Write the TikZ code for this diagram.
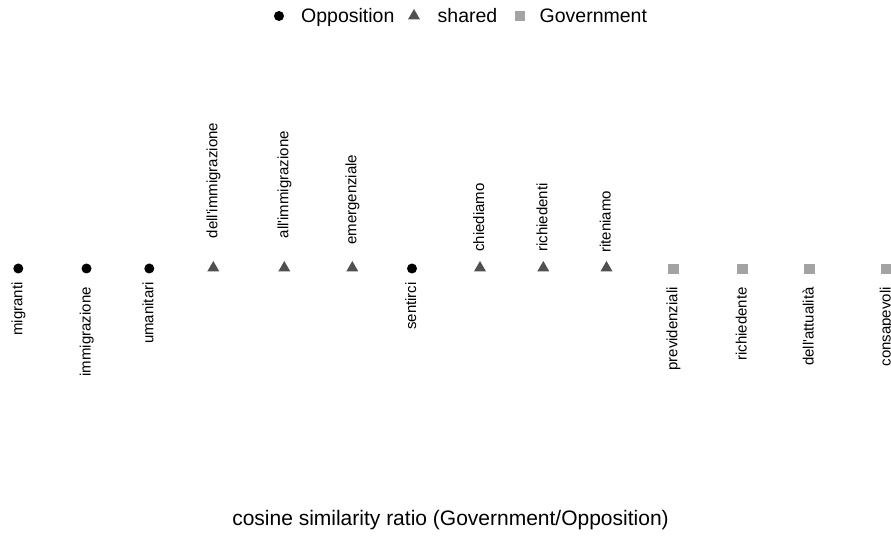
\documentclass[tikz,border=0pt]{standalone}
\usepackage{fontspec}
\setmainfont{Liberation Sans}
\usetikzlibrary{shapes.geometric}
\definecolor{sharedgray}{HTML}{505050}
\definecolor{govgray}{HTML}{A3A3A3}
\begin{document}
\begin{tikzpicture}[x=1pt,y=-1pt,
  opp/.style={circle,fill=black,inner sep=0pt,minimum size=10pt},
  shr/.style={regular polygon,regular polygon sides=3,fill=sharedgray,inner sep=0pt,minimum size=14pt},
  gov/.style={rectangle,fill=govgray,inner sep=0pt,minimum size=10.5pt},
  lab/.style={font=\fontsize{15}{15}\selectfont,rotate=90,inner sep=0pt},
  labdn/.style={lab,anchor=base east},
  labup/.style={lab,anchor=base west},
  legtext/.style={font=\fontsize{19.5}{19.5}\selectfont,inner sep=0pt,anchor=base west},
]
\useasboundingbox (0,0) rectangle (891,537);
\clip (0,0) rectangle (891,537);

% legend
\node[opp] (lo) at (279,16) {};
\node[legtext] (lot) at (301,23) {Opposition};
\node[shr] (ls) at (414,16) {};
\node[legtext] (lst) at (437.5,23) {shared};
\node[gov] (lg) at (520,16) {};
\node[legtext] (lgt) at (539.5,23) {Government};

% points
\node[opp] (p1) at (18.3,268.5) {};
\node[opp] (p2) at (86.5,268.5) {};
\node[opp] (p3) at (149.3,268.5) {};
\node[shr] (p4) at (213.3,268) {};
\node[shr] (p5) at (284.3,268) {};
\node[shr] (p6) at (352.3,268) {};
\node[opp] (p7) at (412,268.5) {};
\node[shr] (p8) at (480,268) {};
\node[shr] (p9) at (543.3,268) {};
\node[shr] (p10) at (606.5,268) {};
\node[gov] (p11) at (673.3,269) {};
\node[gov] (p12) at (742.7,269) {};
\node[gov] (p13) at (809.5,269) {};
\node[gov] (p14) at (886.7,269) {};

% labels
\node[labdn] (t1) at (22.3,282) {migranti};
\node[labdn] (t2) at (90.5,287) {immigrazione};
\node[labdn] (t3) at (153.3,282) {umanitari};
\node[labup] (t4) at (217.3,238.5) {dell\textquotesingle immigrazione};
\node[labup] (t5) at (288.3,238.5) {all\textquotesingle immigrazione};
\node[labup] (t6) at (356.3,245) {emergenziale};
\node[labdn] (t7) at (416,282) {sentirci};
\node[labup] (t8) at (484,252) {chiediamo};
\node[labup] (t9) at (547.3,252) {richiedenti};
\node[labup] (t10) at (610.5,253) {riteniamo};
\node[labdn] (t11) at (677.3,287) {previdenziali};
\node[labdn] (t12) at (746.7,287) {richiedente};
\node[labdn] (t13) at (813.5,287) {dell\textquotesingle attualità};
\node[labdn] (t14) at (890.7,287) {consapevoli};

% axis title
\node[font=\fontsize{21}{21}\selectfont,inner sep=0pt,anchor=base] (title) at (450.5,525) {cosine similarity ratio (Government/Opposition)};
\end{tikzpicture}
\end{document}
